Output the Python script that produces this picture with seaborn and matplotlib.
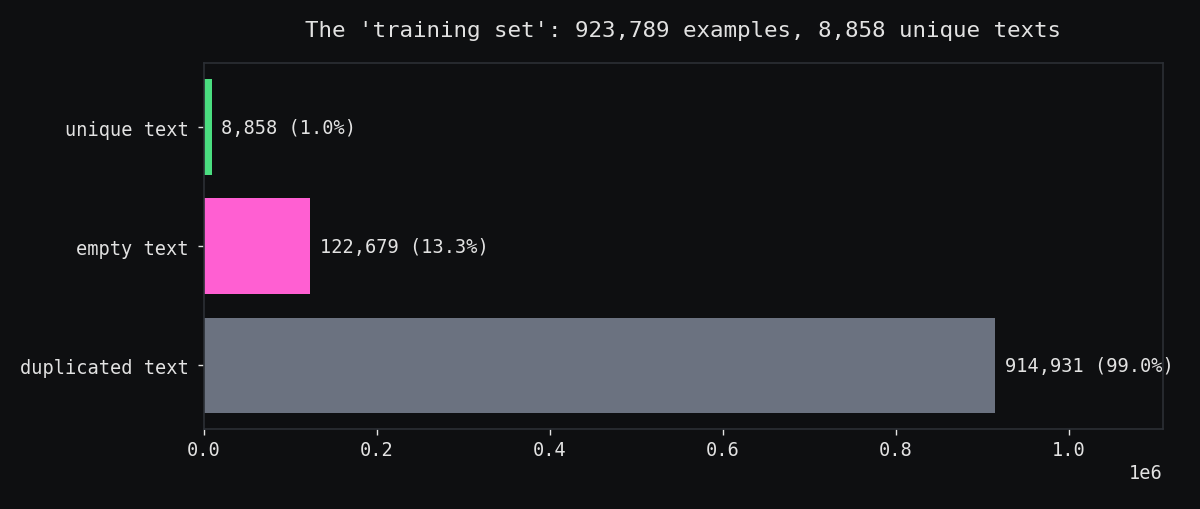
import matplotlib
matplotlib.use("Agg")
import matplotlib.pyplot as plt
import seaborn as sns
import pandas as pd

# Data
categorias = ["unique text", "empty text", "duplicated text"]
conteos = [8858, 122679, 914931]
porcentajes = [1.0, 13.3, 99.0]
total_ejemplos = 923789
colores = ["#4ade80", "#ff5fd2", "#6b7280"]

fondo = "#0e0f11"
texto = "#e2e2e2"
borde = "#2b2f35"

sns.set_theme(style="dark", rc={
    "axes.facecolor": fondo,
    "figure.facecolor": fondo,
    "axes.edgecolor": borde,
    "axes.labelcolor": texto,
    "text.color": texto,
    "xtick.color": texto,
    "ytick.color": texto,
    "xtick.bottom": True,
    "ytick.left": True,
    "axes.grid": False,
})
plt.rcParams["font.family"] = ["DejaVu Sans Mono", "DejaVu Sans"]

df = pd.DataFrame({"categoria": categorias, "conteo": conteos})

fig, ax = plt.subplots(figsize=(12, 5.1), dpi=100)
fig.subplots_adjust(left=0.17, right=0.969, top=0.875, bottom=0.156)

sns.barplot(data=df, y="categoria", x="conteo", hue="categoria",
            palette=colores, orient="h", width=0.8, saturation=1,
            linewidth=0, legend=False, ax=ax)

etiquetas = [f"{c:,} ({p:.1f}%)" for c, p in zip(conteos, porcentajes)]
for cont, et in zip(ax.containers, etiquetas):
    ax.bar_label(cont, labels=[et], padding=7, fontsize=13.4, color=texto)

ax.set_xlim(0, total_ejemplos * 1.2)
ax.set_ylim(2.54, -0.54)
ax.set_xlabel("")
ax.set_ylabel("")
ax.set_title("The 'training set': 923,789 examples, 8,858 unique texts",
             fontsize=16.2, pad=19, color=texto)
ax.tick_params(axis="both", labelsize=13.4, length=4, width=1)
ax.tick_params(axis="y", pad=7)
ax.xaxis.get_offset_text().set_fontsize(13.4)
for s in ax.spines.values():
    s.set_color(borde)
    s.set_linewidth(1.2)

plt.savefig("out.png", dpi=100, facecolor=fondo)
